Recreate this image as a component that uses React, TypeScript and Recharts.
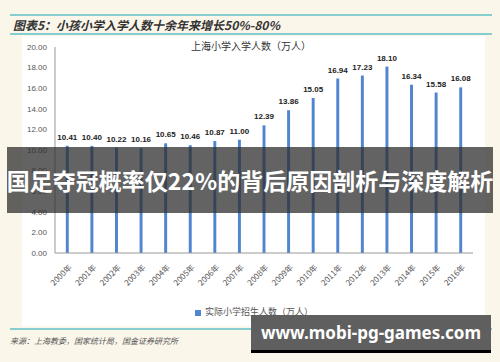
import React from 'react';
import { BarChart, Bar, XAxis, YAxis, LabelList, Legend } from 'recharts';

const years = ['2000年', '2001年', '2002年', '2003年', '2004年', '2005年', '2006年', '2007年', '2008年',
  '2009年', '2010年', '2011年', '2012年', '2013年', '2014年', '2015年', '2016年'];
const enrolment = [10.41, 10.40, 10.22, 10.16, 10.65, 10.46, 10.87, 11.00, 12.39,
  13.86, 15.05, 16.94, 17.23, 18.10, 16.34, 15.58, 16.08];
const yTicks = [0, 2, 4, 6, 8, 10, 12, 14, 16, 18, 20];

const data = years.map((y, i) => ({ year: y, value: enrolment[i] }));

const cjk = '"Noto Sans CJK SC", "Noto Sans", sans-serif';

const XTick = (props: any) => {
  const { x, y, payload } = props;
  return (
    <g transform={`translate(${x + 5},${y + 7})`}>
      <text transform="rotate(-45)" textAnchor="end" fontSize={8} fill="#555" fontFamily={cjk}>
        {payload.value}
      </text>
    </g>
  );
};

export default function App() {
  return (
    <div style={{ position: 'absolute', left: 0, top: 0, width: 500, height: 362, background: '#fbf6ea', overflow: 'hidden' }}>
      {/* header */}
      <div style={{ position: 'absolute', left: 10, top: 14, width: 482, height: 1.5, background: '#86cdd0' }} />
      <div style={{ position: 'absolute', left: 13, top: 16, fontSize: 12, fontWeight: 'bold', fontStyle: 'italic', color: '#333', fontFamily: cjk }}>
        图表5：小孩小学入学人数十余年来增长50%-80%
      </div>
      <div style={{ position: 'absolute', left: 10, top: 33, width: 482, height: 1.5, background: '#86cdd0' }} />

      <div style={{ position: 'absolute', left: 22, top: 36, width: 463, height: 290, background: '#fff' }} />

      <div style={{ position: 'absolute', left: 0, top: 0 }}>
        <BarChart width={500} height={362} data={data} margin={{ top: 47, right: 27, left: 20, bottom: 56 }} barCategoryGap="56%">
          <text x={251} y={50} textAnchor="middle" fontSize={10} fill="#333" fontFamily={cjk}>上海小学入学人数（万人）</text>
          <XAxis dataKey="year" interval={0} tick={<XTick />} tickLine={false} axisLine={{ stroke: '#999' }} height={40} />
          <YAxis domain={[0, 20]} ticks={yTicks} width={35} tickLine={false} axisLine={{ stroke: '#999' }}
            tick={{ fontSize: 8, fill: '#555', fontFamily: 'Liberation Sans, sans-serif' }} tickFormatter={(v: number) => v.toFixed(2)} />
          <Legend iconType="square" iconSize={6}
            wrapperStyle={{ position: 'absolute', top: 305, left: 195, width: 'auto', fontSize: 9, fontFamily: cjk }}
            formatter={() => <span style={{ color: '#555' }}>实际小学招生人数（万人）</span>} />
          <Bar dataKey="value" name="实际小学招生人数（万人）" fill="#4f86cf" isAnimationActive={false}>
            <LabelList dataKey="value" position="top" offset={6} fontSize={8} fontWeight="bold" fill="#222"
              fontFamily="Liberation Sans, sans-serif" formatter={(v: any) => Number(v).toFixed(2)} />
          </Bar>
        </BarChart>
      </div>

      {/* overlay banner */}
      <div style={{ position: 'absolute', left: 7, top: 147, width: 486, height: 66, background: 'rgba(45,45,45,0.74)',
        display: 'flex', alignItems: 'center', justifyContent: 'center' }}>
        <span style={{ color: '#fff', fontSize: 23, fontWeight: 'bold', fontFamily: cjk, whiteSpace: 'nowrap' }}>
          国足夺冠概率仅22%的背后原因剖析与深度解析
        </span>
      </div>

      {/* footer */}
      <div style={{ position: 'absolute', left: 10, top: 328, width: 482, height: 1.5, background: '#86cdd0' }} />
      <div style={{ position: 'absolute', left: 10, top: 335, fontSize: 8, fontStyle: 'italic', color: '#555', fontFamily: cjk }}>
        来源：上海教委，国家统计局，国金证券研究所
      </div>
      <div style={{ position: 'absolute', left: 251, top: 315, width: 240, height: 35, background: '#5f5f5f', borderBottom: '3px solid #000',
        display: 'flex', alignItems: 'center', justifyContent: 'center' }}>
        <span style={{ color: '#fff', fontSize: 17, fontWeight: 'bold', fontFamily: '"Noto Sans", sans-serif', whiteSpace: 'nowrap' }}>
          www.mobi-pg-games.com
        </span>
      </div>
    </div>
  );
}
